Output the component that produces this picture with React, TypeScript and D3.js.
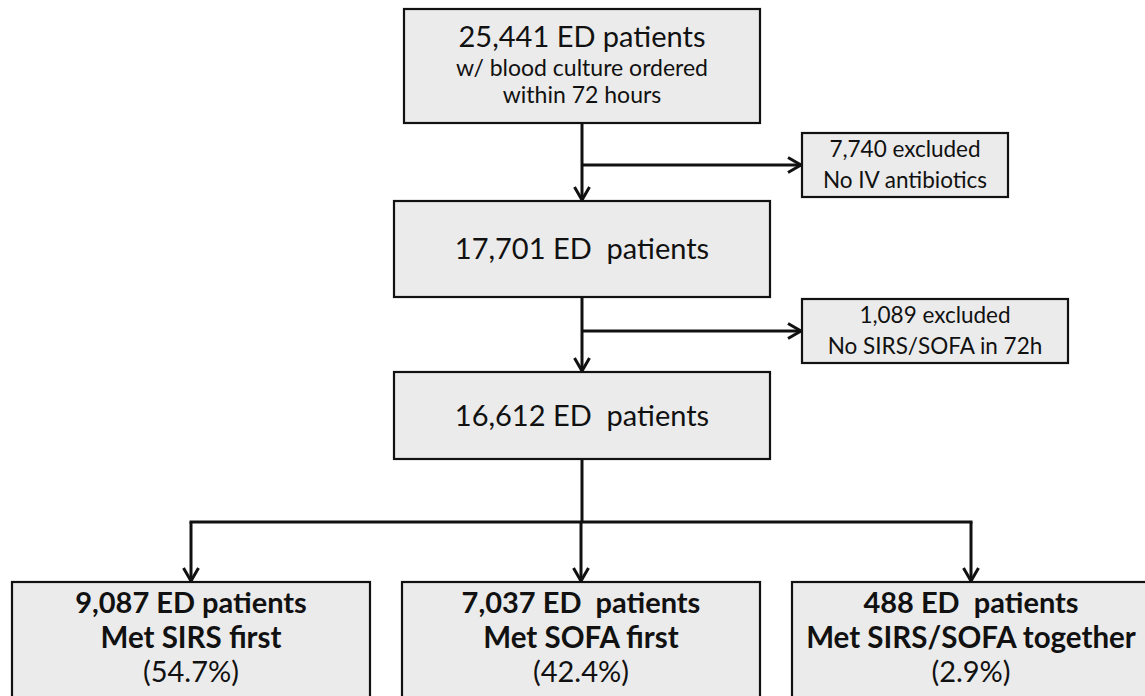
import * as d3 from "d3"

// main flow: patient counts at each step
const mainCounts = [25441, 17701, 16612]
const mainSuffix = ["ED patients", "ED  patients", "ED  patients"]
const mainNotes = [["w/ blood culture ordered", "within 72 hours"], [], []]

// exclusions between steps
const excludedCounts = [7740, 1089]
const excludedReasons = ["No IV antibiotics", "No SIRS/SOFA in 72h"]

// final split
const groupCounts = [9087, 7037, 488]
const groupSuffix = ["ED patients", "ED  patients", "ED  patients"]
const groupLabels = ["Met SIRS first", "Met SOFA first", "Met SIRS/SOFA together"]
const groupPercents = ["54.7%", "42.4%", "2.9%"]

const W = 1145
const H = 696
const FONT = "Lato, 'Open Sans', sans-serif"
const FILL = "#ebebeb"
const INK = "#111"
const fmt = d3.format(",")

// layout
const cx = 582
const mainTop = [9, 201, 372]
const mainH = [114, 96, 87]
const mainW = [356, 376, 376]
const exclLeft = 802
const exclW = [206, 266]
const exclTop = [133, 299]
const exclH = 64
const splitY = 522
const groupTop = 582
const groupH = 130

const App = () => {
  const xGroup = d3.scaleBand<string>()
    .domain(groupLabels)
    .range([12, 1150])
    .paddingInner(32 / 390)

  const link = d3.line()

  const mainBoxes = mainCounts.map((c, i) => ({
    count: c,
    x: cx - mainW[i] / 2,
    y: mainTop[i],
    w: mainW[i],
    h: mainH[i],
  }))

  return (
    <svg width={W} height={H} style={{ position: "absolute", left: 0, top: 0, background: "#fff" }}>
      <defs>
        <marker id="arr" markerUnits="userSpaceOnUse" markerWidth={20} markerHeight={20}
          viewBox="0 0 20 20" refX={15} refY={10} orient="auto">
          <path d="M2,2.5 L15,10 L2,17.5" fill="none" stroke={INK} strokeWidth={3} strokeLinejoin="miter" />
        </marker>
      </defs>

      {/* connectors */}
      <g stroke={INK} strokeWidth={3} fill="none">
        {mainBoxes.slice(0, -1).map((b, i) => (
          <g key={"m" + i}>
            <path d={link([[cx, b.y + b.h], [cx, mainTop[i + 1] - 1]]) ?? ""} markerEnd="url(#arr)" />
            <path d={link([[cx, exclTop[i] + exclH / 2], [exclLeft - 1, exclTop[i] + exclH / 2]]) ?? ""} markerEnd="url(#arr)" />
          </g>
        ))}
        <path d={link([[cx, mainTop[2] + mainH[2]], [cx, splitY]]) ?? ""} />
        <path d={link([
          [(xGroup(groupLabels[0]) ?? 0) + xGroup.bandwidth() / 2, splitY],
          [(xGroup(groupLabels[2]) ?? 0) + xGroup.bandwidth() / 2, splitY],
        ]) ?? ""} strokeLinecap="square" />
        {groupLabels.map(g => {
          const x = (xGroup(g) ?? 0) + xGroup.bandwidth() / 2
          return <path key={g} d={link([[x, splitY], [x, groupTop - 1]]) ?? ""} markerEnd="url(#arr)" />
        })}
      </g>

      {/* main boxes */}
      {mainBoxes.map((b, i) => {
        const notes = mainNotes[i]
        return (
          <g key={"b" + i} fontFamily={FONT} fill={INK} textAnchor="middle">
            <rect x={b.x} y={b.y} width={b.w} height={b.h} fill={FILL} stroke={INK} strokeWidth={2.2} />
            {notes.length ? (
              <>
                <text x={cx} y={b.y + 38} fontSize={29} xmlSpace="preserve">{`${fmt(b.count)} ${mainSuffix[i]}`}</text>
                {notes.map((n, j) => (
                  <text key={j} x={cx} y={b.y + 67 + j * 27} fontSize={23}>{n}</text>
                ))}
              </>
            ) : (
              <text x={cx} y={b.y + b.h / 2 + 10} fontSize={29} xmlSpace="preserve">{`${fmt(b.count)} ${mainSuffix[i]}`}</text>
            )}
          </g>
        )
      })}

      {/* exclusion boxes */}
      {excludedCounts.map((c, i) => {
        const mid = exclTop[i] + exclH / 2
        return (
          <g key={"e" + i} fontFamily={FONT} fill={INK} textAnchor="middle">
            <rect x={exclLeft} y={exclTop[i]} width={exclW[i]} height={exclH} fill={FILL} stroke={INK} strokeWidth={2.2} />
            <text x={exclLeft + exclW[i] / 2} y={mid - 8} fontSize={22.5}>{`${fmt(c)} excluded`}</text>
            <text x={exclLeft + exclW[i] / 2} y={mid + 23} fontSize={22.5}>{excludedReasons[i]}</text>
          </g>
        )
      })}

      {/* outcome boxes */}
      {groupLabels.map((g, i) => {
        const x0 = xGroup(g) ?? 0
        const mx = x0 + xGroup.bandwidth() / 2
        return (
          <g key={g} fontFamily={FONT} fill={INK} textAnchor="middle">
            <rect x={x0} y={groupTop} width={xGroup.bandwidth()} height={groupH} fill={FILL} stroke={INK} strokeWidth={2.2} />
            <text x={mx} y={groupTop + 31} fontSize={29} fontWeight="bold" xmlSpace="preserve">{`${fmt(groupCounts[i])} ${groupSuffix[i]}`}</text>
            <text x={mx} y={groupTop + 66} fontSize={29.5} fontWeight="bold">{g}</text>
            <text x={mx} y={groupTop + 100} fontSize={29}>{`(${groupPercents[i]})`}</text>
          </g>
        )
      })}
    </svg>
  )
}

export default App
